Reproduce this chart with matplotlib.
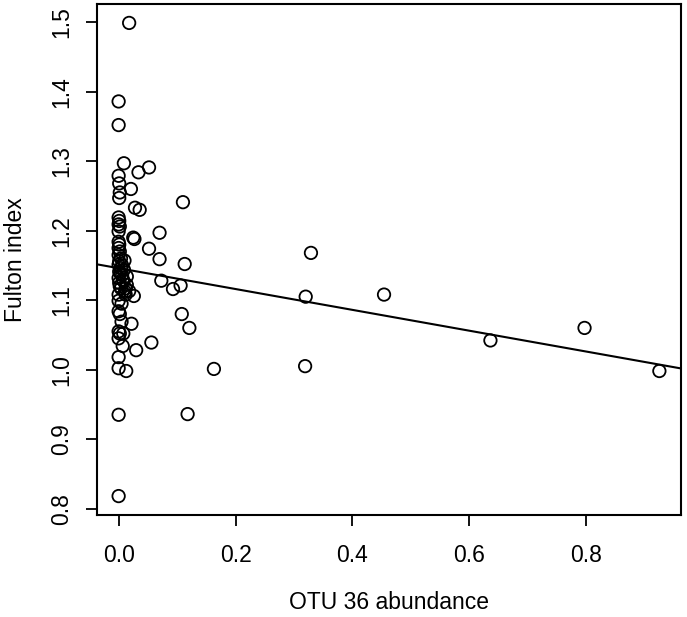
import numpy as np
import matplotlib
matplotlib.use("Agg")
import matplotlib.pyplot as plt

plt.rcParams['font.family'] = ['Liberation Sans', 'DejaVu Sans']

# OTU 36 abundance (x) and Fulton index (y)
otu36 = [0.018, 0.000, 0.000, 0.009, 0.052, 0.034, 0.000, 0.001, 0.021, 0.002,
         0.001, 0.110, 0.028, 0.036, 0.000, 0.001, 0.000, 0.002, 0.070, 0.000,
         0.025, 0.027, 0.000, 0.001, 0.000, 0.052, 0.002, 0.000, 0.004, 0.070,
         0.001, 0.010, 0.113, 0.000, 0.004, 0.009, 0.001, 0.006, 0.014, 0.000,
         0.008, 0.073, 0.001, 0.014, 0.106, 0.004, 0.012, 0.093, 0.018, 0.000,
         0.012, 0.026, 0.000, 0.005, 0.108, 0.000, 0.002, 0.005, 0.022, 0.121,
         0.000, 0.002, 0.008, 0.056, 0.000, 0.007, 0.030, 0.000, 0.000, 0.013,
         0.163, 0.000, 0.118, 0.000, 0.329, 0.320, 0.454, 0.319, 0.636, 0.797,
         0.925, 0.003, 0.007, 0.002, 0.011, 0.006]
fulton = [1.499, 1.386, 1.352, 1.297, 1.291, 1.284, 1.279, 1.268, 1.260, 1.255,
          1.247, 1.241, 1.233, 1.230, 1.219, 1.214, 1.209, 1.206, 1.197, 1.199,
          1.190, 1.188, 1.184, 1.180, 1.175, 1.174, 1.170, 1.165, 1.160, 1.159,
          1.156, 1.157, 1.152, 1.151, 1.146, 1.144, 1.141, 1.136, 1.134, 1.132,
          1.128, 1.128, 1.125, 1.122, 1.121, 1.117, 1.117, 1.116, 1.113, 1.108,
          1.108, 1.106, 1.099, 1.095, 1.080, 1.084, 1.080, 1.069, 1.066, 1.060,
          1.055, 1.052, 1.052, 1.039, 1.045, 1.034, 1.028, 1.018, 1.002, 0.998,
          1.001, 0.935, 0.936, 0.818, 1.168, 1.105, 1.108, 1.005, 1.042, 1.060,
          0.998, 1.139, 1.130, 1.120, 1.112, 1.150]

# fitted line (intercept, slope)
fit_intercept = 1.146
fit_slope = -0.150

x = np.array(otu36)
y = np.array(fulton)

fig = plt.figure(figsize=(6.87, 6.17), dpi=100)
ax = fig.add_axes([97/687, 1 - 515/617, (681-97)/687, (515-4)/617])

ax.scatter(x, y, s=80, facecolors='none', edgecolors='black', linewidths=1.3)
ax.axline((0, fit_intercept), slope=fit_slope, color='black', lw=1.5)

# R style 4% padding
def rlim(v):
    d = (v.max() - v.min()) * 0.04
    return v.min() - d, v.max() + d

ax.set_xlim(*rlim(x))
ax.set_ylim(*rlim(y))
ax.set_xticks([0.0, 0.2, 0.4, 0.6, 0.8])
ax.set_yticks([0.8, 0.9, 1.0, 1.1, 1.2, 1.3, 1.4, 1.5])
ax.set_xticklabels(['0.0', '0.2', '0.4', '0.6', '0.8'])
ax.set_yticklabels(['0.8', '0.9', '1.0', '1.1', '1.2', '1.3', '1.4', '1.5'],
                   rotation=90, va='center')

for s in ax.spines.values():
    s.set_linewidth(1.5)
ax.tick_params(axis='both', length=8, width=1.3, labelsize=16.5, direction='out')
ax.tick_params(axis='x', pad=13)
ax.tick_params(axis='y', pad=9)

ax.set_xlabel('OTU 36 abundance', fontsize=16.5, labelpad=17)
ax.set_ylabel('Fulton index', fontsize=16.5, labelpad=17)

fig.savefig('out.png', dpi=100)
